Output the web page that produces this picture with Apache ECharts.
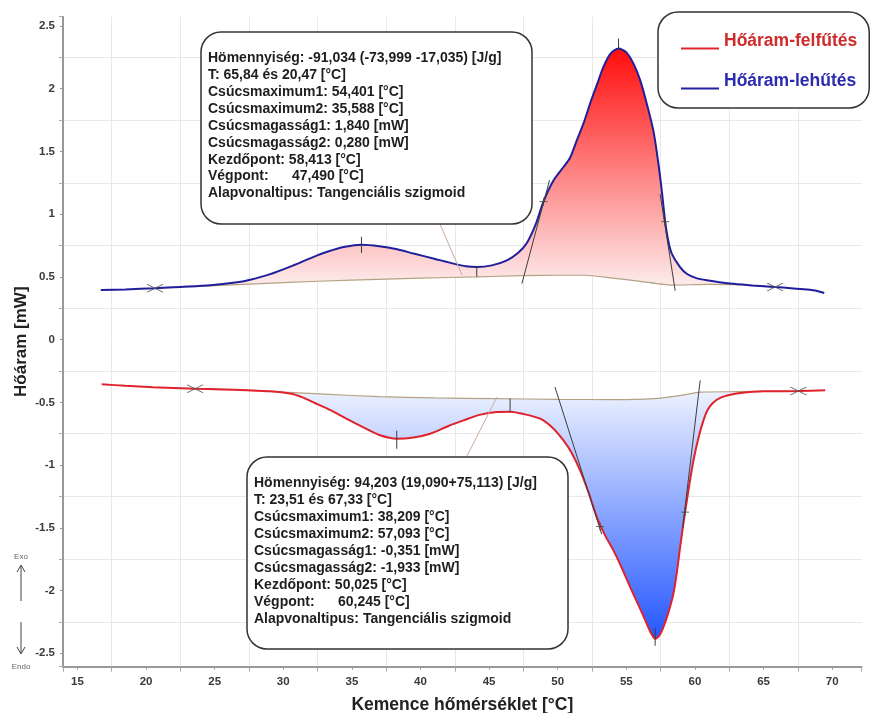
<!DOCTYPE html>
<html><head><meta charset="utf-8">
<script src="https://cdn.jsdelivr.net/npm/echarts@6/dist/echarts.min.js"></script>
<style>html,body{margin:0;padding:0;background:#fff}#c{width:871px;height:713px}</style>
</head><body><div id="c"></div>
<script>
const xTickLabels = [15, 20, 25, 30, 35, 40, 45, 50, 55, 60, 65, 70];
const yTickLabels = [-2.5, -2, -1.5, -1, -0.5, 0, 0.5, 1, 1.5, 2, 2.5];

const seriesNames = ['Hőáram-felfűtés', 'Hőáram-lehűtés'];

// Cooling (blue line, exothermic, upper curve)
const coolingCurve = [[16.7,0.395],[18.5,0.40],[20.66,0.41],[22.5,0.42],[24.7,0.433],[26.5,0.455],[27.6,0.478],[29.0,0.52],[30.7,0.59],[32.0,0.65],[33.2,0.70],[34.5,0.74],[35.7,0.757],[37.0,0.745],[38.3,0.72],[39.5,0.686],[41.0,0.645],[42.4,0.606],[43.3,0.585],[44.1,0.579],[45.2,0.592],[46.3,0.632],[47.1,0.69],[47.75,0.77],[48.4,0.92],[48.96,1.10],[49.7,1.27],[50.42,1.376],[50.9,1.45],[51.39,1.589],[51.9,1.73],[52.36,1.882],[52.85,2.03],[53.33,2.174],[53.85,2.28],[54.43,2.32],[55.0,2.29],[55.52,2.20],[56.0,2.07],[56.49,1.88],[56.98,1.66],[57.34,1.40],[57.6,1.17],[57.83,0.94],[58.05,0.79],[58.31,0.686],[58.9,0.58],[59.4,0.525],[60.1,0.49],[60.87,0.473],[62.57,0.447],[64.2,0.432],[65.84,0.419],[67.0,0.41],[68.15,0.399],[68.9,0.388],[69.42,0.372]];
const coolingBaseline = [[20.66,0.41],[25,0.43],[30,0.455],[35,0.475],[40,0.49],[44.1,0.50],[47.5,0.51],[50,0.513],[52,0.513],[54,0.49],[56,0.465],[58.3,0.435],[61,0.44],[63,0.438],[65.84,0.419]];

// Heating (red line, endothermic, lower curve)
const heatingCurve = [[16.77,-0.356],[18.5,-0.368],[20.5,-0.379],[23.57,-0.391],[25.5,-0.397],[27.34,-0.404],[29.0,-0.412],[30.5,-0.43],[31.4,-0.46],[32.3,-0.505],[33.4,-0.56],[34.6,-0.63],[35.84,-0.70],[37.0,-0.76],[38.27,-0.79],[39.5,-0.78],[40.7,-0.75],[42.0,-0.69],[43.13,-0.644],[44.3,-0.60],[45.56,-0.577],[46.53,-0.575],[47.6,-0.595],[48.72,-0.63],[49.6,-0.70],[50.42,-0.803],[51.0,-0.90],[51.63,-1.042],[52.25,-1.22],[52.85,-1.415],[53.45,-1.56],[54.06,-1.68],[54.67,-1.82],[55.28,-1.973],[55.9,-2.12],[56.49,-2.265],[56.8,-2.34],[57.1,-2.385],[57.4,-2.36],[57.7,-2.292],[58.05,-2.18],[58.43,-2.026],[58.7,-1.84],[58.92,-1.654],[59.28,-1.375],[59.6,-1.15],[59.89,-0.963],[60.26,-0.78],[60.62,-0.644],[60.9,-0.565],[61.3,-0.505],[61.84,-0.465],[62.57,-0.44],[63.3,-0.426],[65.0,-0.412],[67.54,-0.41],[69.49,-0.404]];
const heatingBaseline = [[23.57,-0.391],[27,-0.40],[30,-0.418],[33,-0.435],[37,-0.455],[41,-0.465],[45.5,-0.47],[50,-0.476],[54,-0.478],[57,-0.47],[59,-0.444],[60.4,-0.418],[63,-0.415],[67.54,-0.41]];

// Integration limits (X markers)
const limitMarks = [[20.66,0.41],[65.84,0.419],[23.57,-0.391],[67.54,-0.41]];
// Tangent lines [x1,y1,x2,y2]
const tangentLines = [[47.39,0.447,49.4,1.27],[57.46,1.16,58.56,0.39],[49.8,-0.378,53.2,-1.55],[60.38,-0.325,59.1,-1.5]];
// Peak marker lines [x1,y1,x2,y2]
const peakLines = [[35.7,0.69,35.7,0.82],[44.1,0.50,44.1,0.58],[54.43,2.32,54.43,2.40],[38.27,-0.726,38.27,-0.87],[46.53,-0.47,46.53,-0.577],[57.1,-2.30,57.1,-2.44]];
// Tangent contact points
const inflectionPoints = [[48.96,1.10],[57.83,0.94],[53.08,-1.49],[59.28,-1.375]];

const coolingText = [
  'Hömennyiség: -91,034 (-73,999 -17,035) [J/g]',
  'T: 65,84 és 20,47 [°C]',
  'Csúcsmaximum1: 54,401 [°C]',
  'Csúcsmaximum2: 35,588 [°C]',
  'Csúcsmagasság1: 1,840 [mW]',
  'Csúcsmagasság2: 0,280 [mW]',
  'Kezdőpont: 58,413 [°C]',
  'Végpont:      47,490 [°C]',
  'Alapvonaltipus: Tangenciális szigmoid'
];
const heatingText = [
  'Hömennyiség: 94,203 (19,090+75,113) [J/g]',
  'T: 23,51 és 67,33 [°C]',
  'Csúcsmaximum1: 38,209 [°C]',
  'Csúcsmaximum2: 57,093 [°C]',
  'Csúcsmagasság1: -0,351 [mW]',
  'Csúcsmagasság2: -1,933 [mW]',
  'Kezdőpont: 50,025 [°C]',
  'Végpont:      60,245 [°C]',
  'Alapvonaltipus: Tangenciális szigmoid'
];

const FONT = '"Liberation Sans", Arial, Helvetica, sans-serif';
const X_MIN = 13.95, X_MAX = 72.15, Y_MIN = -2.607, Y_MAX = 2.574;

function fillSeries(curve, baseline, stops) {
  const x0 = baseline[0][0], x1 = baseline[baseline.length - 1][0];
  const pts = [baseline[0]]
    .concat(curve.filter(p => p[0] > x0 && p[0] < x1))
    .concat([baseline[baseline.length - 1]])
    .concat(baseline.slice(1, -1).reverse());
  return {
    type: 'custom', coordinateSystem: 'cartesian2d', silent: true, z: 1, clip: true,
    data: [pts[0]],
    renderItem: function (params, api) {
      return {
        type: 'polygon',
        shape: { points: pts.map(p => api.coord(p)) },
        style: { fill: new echarts.graphic.LinearGradient(0, 0, 0, 1, stops), stroke: null }
      };
    }
  };
}

function segmentSeries(segs, color) {
  return {
    type: 'custom', coordinateSystem: 'cartesian2d', silent: true, z: 4,
    data: segs, encode: { x: [0, 2], y: [1, 3] },
    renderItem: function (params, api) {
      const p1 = api.coord([api.value(0), api.value(1)]);
      const p2 = api.coord([api.value(2), api.value(3)]);
      return { type: 'line', shape: { x1: p1[0], y1: p1[1], x2: p2[0], y2: p2[1] },
               style: { stroke: color, lineWidth: 1 } };
    }
  };
}

const chart = echarts.init(document.getElementById('c'), null, { renderer: 'canvas' });

const option = {
  animation: false,
  backgroundColor: '#ffffff',
  textStyle: { fontFamily: FONT },
  grid: { left: 63, right: 9.3, top: 16.7, bottom: 46.3, containLabel: false, outerBoundsMode: 'none' },
  legend: {
    data: [
      { name: seriesNames[0], textStyle: { color: '#cf2b2b' } },
      { name: seriesNames[1], textStyle: { color: '#2b2bb0' } }
    ],
    orient: 'vertical', left: 658, top: 12,
    icon: 'path://M0,0ZM0,15L38,15L38,17L0,17Z',
    itemWidth: 38, itemHeight: 17, itemGap: 22,
    padding: [20, 12, 18, 23],
    backgroundColor: '#ffffff', borderColor: '#333333', borderWidth: 1.5, borderRadius: 20,
    selectedMode: false,
    textStyle: { fontSize: 17.5, fontWeight: 'bold', fontFamily: FONT }
  },
  xAxis: [{
    type: 'value', min: X_MIN, max: X_MAX, position: 'bottom',
    axisLine: { show: true, onZero: false, lineStyle: { color: '#999999', width: 2 } },
    axisTick: { show: true, length: 3, customValues: xTickLabels, lineStyle: { color: '#999999' } },
    axisLabel: { customValues: xTickLabels, margin: 9, fontSize: 11.5, fontWeight: 'bold', color: '#3a3a3a', fontFamily: FONT },
    splitLine: { show: false },
    name: 'Kemence hőmérséklet [°C]', nameLocation: 'middle', nameGap: 29,
    nameTextStyle: { fontSize: 17.5, fontWeight: 'bold', color: '#222222', fontFamily: FONT }
  }, {
    type: 'value', min: X_MIN + 2.5, max: X_MAX + 2.5, position: 'bottom',
    minInterval: 5, maxInterval: 5, splitNumber: 12,
    axisLine: { show: false, onZero: false },
    axisTick: { show: true, length: 5, lineStyle: { color: '#aaaaaa' } },
    axisLabel: { show: false },
    splitLine: { show: true, showMinLine: false, showMaxLine: false, lineStyle: { color: '#e8e8e8', width: 1 } }
  }],
  yAxis: [{
    type: 'value', min: Y_MIN, max: Y_MAX, position: 'left',
    axisLine: { show: true, onZero: false, lineStyle: { color: '#999999', width: 2 } },
    axisTick: { show: true, length: 3, customValues: yTickLabels, lineStyle: { color: '#999999' } },
    axisLabel: { customValues: yTickLabels, margin: 8, fontSize: 11.5, fontWeight: 'bold', color: '#3a3a3a', fontFamily: FONT },
    splitLine: { show: false },
    name: 'Hőáram [mW]', nameLocation: 'middle', nameGap: 33, nameMoveOverlap: false,
    nameTextStyle: { fontSize: 17, fontWeight: 'bold', color: '#222222', fontFamily: FONT }
  }, {
    type: 'value', min: Y_MIN + 0.25, max: Y_MAX + 0.25, position: 'left',
    minInterval: 0.5, maxInterval: 0.5, splitNumber: 10,
    axisLine: { show: false, onZero: false },
    axisTick: { show: true, length: 4, lineStyle: { color: '#aaaaaa' } },
    axisLabel: { show: false },
    splitLine: { show: true, showMinLine: false, showMaxLine: false, lineStyle: { color: '#e8e8e8', width: 1 } }
  }],
  series: [
    fillSeries(coolingCurve, coolingBaseline, [{ offset: 0, color: '#ff0d0d' }, { offset: 1, color: '#fdeeee' }]),
    fillSeries(heatingCurve, heatingBaseline, [{ offset: 0, color: '#eef3ff' }, { offset: 1, color: '#2457ff' }]),
    { type: 'line', data: coolingBaseline, showSymbol: false, smooth: 0.2, silent: true, z: 2,
      lineStyle: { color: '#b3a283', width: 1.2 } },
    { type: 'line', data: heatingBaseline, showSymbol: false, smooth: 0.2, silent: true, z: 2,
      lineStyle: { color: '#b3a283', width: 1.2 } },
    { name: seriesNames[1], type: 'line', data: coolingCurve, showSymbol: false, smooth: 0.25, z: 3,
      itemStyle: { color: '#2424a0' }, lineStyle: { color: '#1f1f9c', width: 2 } },
    { name: seriesNames[0], type: 'line', data: heatingCurve, showSymbol: false, smooth: 0.25, z: 3,
      itemStyle: { color: '#e3262e' }, lineStyle: { color: '#e0222c', width: 2 } },
    segmentSeries(tangentLines, '#3d3d3d'),
    segmentSeries(peakLines, '#3d3d3d'),
    { type: 'scatter', data: limitMarks, silent: true, z: 5,
      symbol: 'path://M0,0L16,8M0,8L16,0', symbolSize: [16, 8],
      itemStyle: { color: 'rgba(0,0,0,0)', borderColor: '#555555', borderWidth: 1.2 } },
    { type: 'scatter', data: inflectionPoints, silent: true, z: 5,
      symbol: 'path://M0,4L8,4M4,0L4,8', symbolSize: [8, 8],
      itemStyle: { color: 'rgba(0,0,0,0)', borderColor: '#444444', borderWidth: 1 } }
  ],
  graphic: [
    { type: 'line', z: 90, shape: { x1: 440, y1: 224, x2: 462, y2: 275 }, style: { stroke: '#c9ab9b', lineWidth: 1 } },
    { type: 'line', z: 90, shape: { x1: 467, y1: 456, x2: 497, y2: 397 }, style: { stroke: '#c9ab9b', lineWidth: 1 } },
    { type: 'rect', z: 100, shape: { x: 201, y: 32, width: 331, height: 192, r: 20 },
      style: { fill: '#ffffff', stroke: '#333333', lineWidth: 1.5 } },
    { type: 'text', z: 101, x: 208, y: 49.8,
      style: { text: coolingText.join('\n'), font: 'bold 14px ' + FONT, fill: '#1e1e1e', lineHeight: 16.9, verticalAlign: 'top', align: 'left' } },
    { type: 'rect', z: 100, shape: { x: 247, y: 457, width: 321, height: 192, r: 20 },
      style: { fill: '#ffffff', stroke: '#333333', lineWidth: 1.5 } },
    { type: 'text', z: 101, x: 254, y: 474.8,
      style: { text: heatingText.join('\n'), font: 'bold 14px ' + FONT, fill: '#1e1e1e', lineHeight: 17, verticalAlign: 'top', align: 'left' } },
    { type: 'text', z: 101, x: 21, y: 557, style: { text: 'Exo', font: '8px ' + FONT, fill: '#666666', align: 'center', verticalAlign: 'middle' } },
    { type: 'line', z: 101, shape: { x1: 21, y1: 601, x2: 21, y2: 566 }, style: { stroke: '#444444', lineWidth: 1 } },
    { type: 'polyline', z: 101, shape: { points: [[17, 572], [21, 565], [25, 572]] }, style: { stroke: '#444444', lineWidth: 1, fill: null } },
    { type: 'line', z: 101, shape: { x1: 21, y1: 622, x2: 21, y2: 653 }, style: { stroke: '#444444', lineWidth: 1 } },
    { type: 'polyline', z: 101, shape: { points: [[17, 647], [21, 654], [25, 647]] }, style: { stroke: '#444444', lineWidth: 1, fill: null } },
    { type: 'text', z: 101, x: 21, y: 667, style: { text: 'Endo', font: '8px ' + FONT, fill: '#666666', align: 'center', verticalAlign: 'middle' } }
  ]
};
chart.setOption(option);
</script>
</body></html>
